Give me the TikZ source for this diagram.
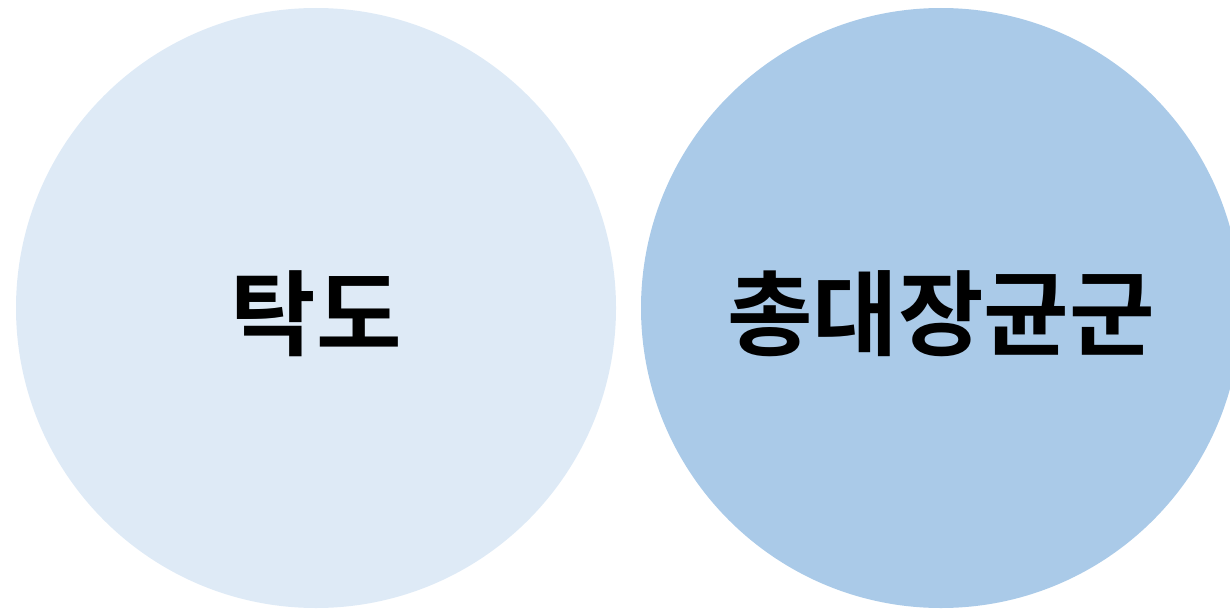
\documentclass[tikz,border=0pt]{standalone}
\usepackage{fontspec}
\newfontfamily\kr{Noto Sans CJK KR Bold}
\definecolor{lightc}{RGB}{222,234,246}
\definecolor{darkc}{RGB}{170,202,232}
\begin{document}
\begin{tikzpicture}[x=1pt,y=-1pt,
  circ/.style={circle,minimum size=600pt,inner sep=0pt},
  lbl/.style={font=\kr\fontsize{93}{100}\selectfont,text=black}]
\useasboundingbox (0,0) rectangle (1230,610);
\node[circ,fill=lightc] (c1) at (316,308) {};
\node[circ,fill=darkc] (c2) at (941,308) {};
\node[lbl] (t1) at (316,314) {탁도};
\node[lbl] (t2) at (941,314) {총대장균군};
\end{tikzpicture}
\end{document}
